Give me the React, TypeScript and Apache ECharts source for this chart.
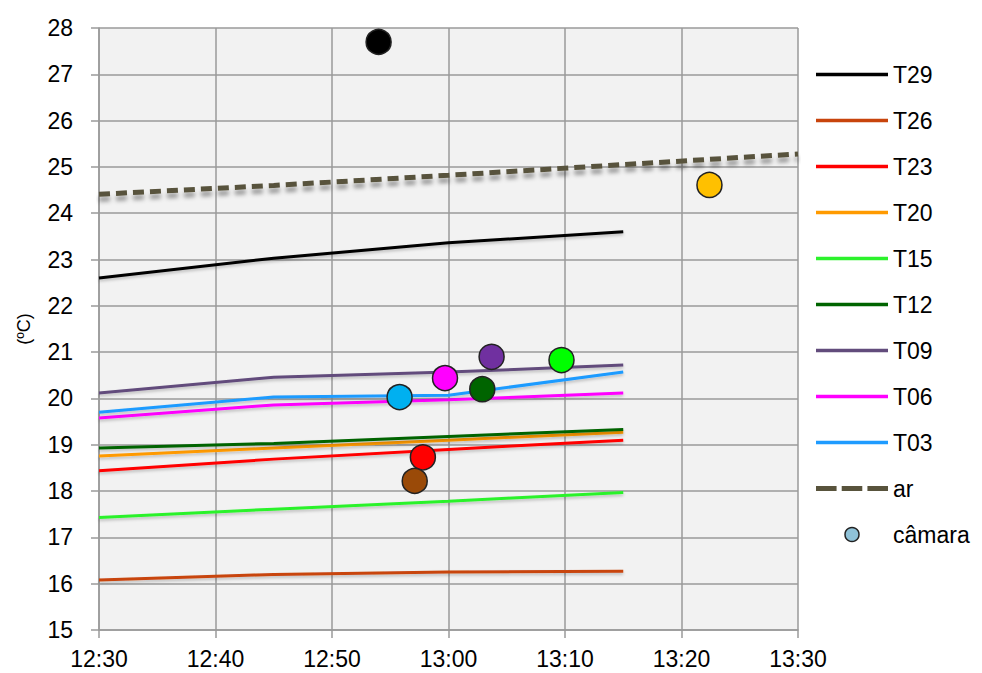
import React, { useEffect, useRef } from "react";
import * as echarts from "echarts";

// Sample times (HH:MM) for the sensor readings
const times = ["12:30", "12:45", "13:00", "13:15"];
const airTimes = ["12:30", "12:45", "13:00", "13:15", "13:30"];

// Sensor temperatures (ºC)
const T29 = [22.6, 23.03, 23.36, 23.6];
const T26 = [16.08, 16.2, 16.25, 16.27];
const T23 = [18.44, 18.69, 18.9, 19.1];
const T20 = [18.76, 18.93, 19.1, 19.27];
const T15 = [17.43, 17.61, 17.78, 17.97];
const T12 = [18.93, 19.03, 19.18, 19.33];
const T09 = [20.12, 20.46, 20.57, 20.72];
const T06 = [19.58, 19.86, 19.97, 20.12];
const T03 = [19.7, 20.03, 20.07, 20.57];

// Air temperature
const ar = [24.41, 24.6, 24.82, 25.05, 25.28];

// Chamber readings
const camaraNames = ["T29", "T20", "T09", "T15", "T06", "T12", "T03", "T23", "T26"];
const camaraTimes = ["12:54", "13:22.4", "13:03.7", "13:09.7", "12:59.7", "13:02.9", "12:55.8", "12:57.8", "12:57.1"];
const camaraValues = [27.7, 24.61, 20.9, 20.83, 20.44, 20.2, 20.03, 18.73, 18.22];
const camaraColors = ["#000000", "#ffc000", "#7030a0", "#00ff00", "#ff00ff", "#006400", "#00b0f0", "#ff0000", "#9a4a08"];

const lineNames = ["T29", "T26", "T23", "T20", "T15", "T12", "T09", "T06", "T03"];
const lineData = [T29, T26, T23, T20, T15, T12, T09, T06, T03];
const lineColors = ["#000000", "#c8440c", "#ff0000", "#ff9a00", "#2cf22c", "#006400", "#624c7c", "#ff00ff", "#1e9bff"];

const toMinutes = (t: string) => {
  const [h, m] = t.split(":");
  return Number(h) * 60 + Number(m);
};

const fmtTime = (v: number) => {
  const h = Math.floor(v / 60);
  const m = Math.round(v - h * 60);
  return `${h}:${m < 10 ? "0" + m : m}`;
};

const FONT = "'Liberation Sans', Arial, sans-serif";
const GRID_GRAY = "#9a9a9a";

// Legend glyphs: a solid stroke and a three-dash stroke
const SOLID_ICON = "path://M0,0 H70 V3.5 H0 Z";
const DASH_ICON =
  "path://M0,0 H20 V5 H0 Z M25,0 H45 V5 H25 Z M50,0 H70 V5 H50 Z";

export default function App() {
  const ref = useRef<HTMLDivElement>(null);

  useEffect(() => {
    if (!ref.current) return;
    const chart = echarts.init(ref.current, null, { renderer: "svg" });

    const lineSeries = lineNames.map((name, i) => ({
      name,
      type: "line",
      data: times.map((t, j) => [toMinutes(t), lineData[i][j]]),
      symbol: "none",
      lineStyle: {
        color: lineColors[i],
        width: 3,
        shadowColor: "rgba(0,0,0,0.22)",
        shadowBlur: 3,
        shadowOffsetY: 2,
      },
      itemStyle: { color: lineColors[i] },
      z: 3,
    }));

    const option = {
      animation: false,
      backgroundColor: "#ffffff",
      textStyle: { fontFamily: FONT },
      grid: {
        left: 99,
        right: 184,
        top: 28,
        bottom: 43,
        show: true,
        backgroundColor: "#f2f2f2",
        borderWidth: 0,
        containLabel: false,
        outerBoundsMode: "none",
      },
      legend: {
        orient: "vertical",
        left: 811,
        top: 58,
        itemWidth: 72,
        itemHeight: 14,
        itemGap: 23,
        textStyle: { fontFamily: FONT, fontSize: 23, color: "#000", lineHeight: 22 },
        data: [
          ...lineNames.map((n, i) => ({ name: n, icon: SOLID_ICON, itemStyle: { color: lineColors[i], borderWidth: 0 } })),
          { name: "ar", icon: DASH_ICON, itemStyle: { color: "#58533c", borderWidth: 0 } },
          { name: "câmara", icon: "circle", itemStyle: { color: "#8fc2d8", borderColor: "#222", borderWidth: 1.5 } },
        ],
      },
      xAxis: {
        type: "value",
        min: 750,
        max: 810,
        interval: 10,
        axisLine: { show: true, lineStyle: { color: GRID_GRAY, width: 1.5 } },
        axisTick: { show: true, length: 8, lineStyle: { color: GRID_GRAY, width: 1.5 } },
        splitLine: { show: true, lineStyle: { color: GRID_GRAY, width: 1.5 } },
        axisLabel: {
          formatter: (v: number) => fmtTime(v),
          fontFamily: FONT,
          fontSize: 23,
          color: "#000",
          margin: 17,
        },
      },
      yAxis: {
        type: "value",
        min: 15,
        max: 28,
        interval: 1,
        name: "(ºC)",
        nameLocation: "middle",
        nameRotate: 90,
        nameGap: 66,
        nameTextStyle: { fontFamily: FONT, fontSize: 18, color: "#000" },
        axisLine: { show: true, lineStyle: { color: GRID_GRAY, width: 1.5 } },
        axisTick: { show: true, length: 8, lineStyle: { color: GRID_GRAY, width: 1.5 } },
        splitLine: { show: true, lineStyle: { color: GRID_GRAY, width: 1.5 } },
        axisLabel: { fontFamily: FONT, fontSize: 23, color: "#000", margin: 26 },
      },
      series: [
        ...lineSeries,
        {
          name: "ar",
          type: "line",
          data: airTimes.map((t, j) => [toMinutes(t), ar[j]]),
          symbol: "none",
          lineStyle: {
            color: "#58533c",
            width: 5,
            type: [11, 6],
            shadowColor: "rgba(0,0,0,0.38)",
            shadowBlur: 4,
            shadowOffsetY: 5,
          },
          itemStyle: { color: "#58533c" },
          z: 3,
        },
        {
          name: "câmara",
          type: "scatter",
          symbol: "circle",
          symbolSize: 25,
          itemStyle: { color: "#8fc2d8", borderColor: "#222", borderWidth: 1.5, opacity: 1 },
          data: camaraNames.map((n, i) => ({
            name: n,
            value: [toMinutes(camaraTimes[i]), camaraValues[i]],
            itemStyle: { color: camaraColors[i], borderColor: "#222", borderWidth: 1.5, opacity: 1 },
          })),
          z: 5,
        },
      ],
    };

    chart.setOption(option as any);
    return () => chart.dispose();
  }, []);

  return <div ref={ref} style={{ width: 982, height: 673, position: "absolute", left: 0, top: 0 }} />;
}
